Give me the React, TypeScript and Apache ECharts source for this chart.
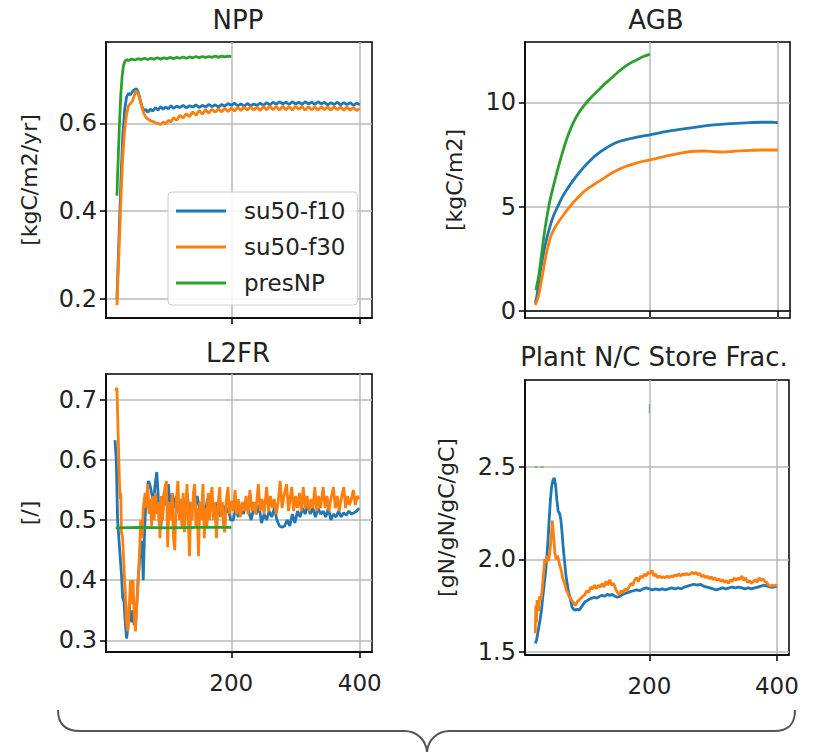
import React, { useEffect, useRef } from "react";
import * as echarts from "echarts";

const FONT = "DejaVu Sans";
const BLUE = "#1f77b4";
const ORANGE = "#ff7f0e";
const GREEN = "#2ca02c";

const SERIES_NAMES = ["su50-f10", "su50-f30", "presNP"];
const PANEL_TITLES = ["NPP", "AGB", "L2FR", "Plant N/C Store Frac."];
const Y_NAMES = ["[kgC/m2/yr]", "[kgC/m2]", "[/]", "[gN/gN/gC/gC]"];
const X_TICKS = [200, 400];
const Y_TICKS_NPP = [0.2, 0.4, 0.6];
const Y_TICKS_AGB = [0, 5, 10];
const Y_TICKS_L2FR = [0.3, 0.4, 0.5, 0.6, 0.7];
const Y_TICKS_NC = [1.5, 2.0, 2.5];

// ---- NPP ----
const NPP_BLUE = [[22,0.20],[25,0.33],[28,0.46],[31,0.57],[34,0.63],[37,0.66],[40,0.668],[43,0.665],[46,0.672],[49,0.676],[52,0.679],[55,0.672],[58,0.655],[61,0.638],[64,0.628],[67,0.632],[70,0.625],[74,0.632],[78,0.628],[82,0.636],[86,0.63],[90,0.638],[94,0.632],[98,0.637],[102,0.633],[106,0.64],[110,0.634],[115,0.639],[120,0.636],[125,0.641],[130,0.635],[135,0.64],[140,0.637],[145,0.642],[150,0.636],[155,0.641],[160,0.637],[165,0.643],[170,0.638],[175,0.642],[180,0.637],[185,0.643],[190,0.639],[195,0.645],[200,0.641],[205,0.646],[210,0.64],[215,0.644],[220,0.639],[225,0.645],[230,0.64],[235,0.644],[240,0.641],[245,0.646],[250,0.641],[255,0.647],[260,0.642],[265,0.648],[270,0.643],[275,0.649],[280,0.644],[285,0.648],[290,0.643],[295,0.649],[300,0.644],[305,0.648],[310,0.643],[315,0.649],[320,0.644],[325,0.648],[330,0.643],[335,0.649],[340,0.644],[345,0.648],[350,0.642],[355,0.647],[360,0.643],[365,0.648],[370,0.642],[375,0.647],[380,0.643],[385,0.647],[390,0.641],[395,0.646],[400,0.642]];
const NPP_ORANGE = [[22,0.186],[25,0.30],[28,0.42],[31,0.52],[34,0.585],[37,0.62],[40,0.64],[43,0.645],[46,0.65],[49,0.663],[52,0.674],[55,0.668],[58,0.652],[61,0.636],[64,0.622],[67,0.614],[70,0.61],[74,0.606],[78,0.604],[82,0.601],[86,0.6],[90,0.597],[94,0.603],[98,0.599],[102,0.607],[106,0.603],[110,0.613],[115,0.607],[120,0.618],[125,0.612],[130,0.622],[135,0.615],[140,0.626],[145,0.618],[150,0.629],[155,0.621],[160,0.631],[165,0.623],[170,0.632],[175,0.625],[180,0.633],[185,0.626],[190,0.634],[195,0.627],[200,0.635],[205,0.628],[210,0.636],[215,0.629],[220,0.637],[225,0.63],[230,0.638],[235,0.63],[240,0.637],[245,0.629],[250,0.638],[255,0.631],[260,0.639],[265,0.631],[270,0.638],[275,0.63],[280,0.639],[285,0.631],[290,0.638],[295,0.63],[300,0.639],[305,0.632],[310,0.638],[315,0.63],[320,0.638],[325,0.631],[330,0.637],[335,0.63],[340,0.638],[345,0.631],[350,0.637],[355,0.63],[360,0.638],[365,0.631],[370,0.637],[375,0.63],[380,0.637],[385,0.63],[390,0.636],[395,0.629],[400,0.633]];
const NPP_GREEN = [[22,0.435],[24,0.52],[26,0.6],[28,0.665],[30,0.705],[32,0.73],[34,0.74],[37,0.745],[40,0.743],[45,0.746],[50,0.744],[55,0.747],[60,0.745],[65,0.748],[70,0.745],[75,0.748],[80,0.746],[85,0.749],[90,0.746],[95,0.749],[100,0.747],[105,0.75],[110,0.747],[115,0.75],[120,0.748],[125,0.751],[130,0.748],[135,0.751],[140,0.749],[145,0.752],[150,0.749],[155,0.752],[160,0.75],[165,0.752],[170,0.75],[175,0.753],[180,0.75],[185,0.753],[190,0.751],[195,0.753],[200,0.752]];

// ---- AGB ----
const AGB_BLUE = [[21,0.35],[24,0.8],[27,1.5],[30,2.1],[33,2.6],[36,3.1],[40,3.6],[45,4.15],[50,4.6],[56,5.0],[63,5.45],[70,5.8],[80,6.25],[90,6.65],[100,7.0],[115,7.45],[130,7.78],[150,8.1],[175,8.3],[200,8.45],[225,8.6],[250,8.72],[275,8.83],[300,8.92],[325,8.98],[350,9.02],[375,9.05],[390,9.05],[400,9.03]];
const AGB_ORANGE = [[21,0.28],[25,0.6],[28,1.0],[31,1.5],[35,2.2],[38,2.7],[41,3.1],[45,3.55],[50,3.9],[57,4.25],[65,4.6],[75,5.0],[88,5.45],[100,5.8],[112,6.05],[125,6.3],[140,6.6],[160,6.9],[180,7.1],[200,7.24],[225,7.42],[250,7.58],[270,7.66],[285,7.67],[300,7.64],[315,7.62],[330,7.66],[350,7.69],[375,7.72],[400,7.72]];
const AGB_GREEN = [[22,1.0],[26,1.6],[30,2.5],[36,3.9],[42,5.0],[47,5.7],[52,6.3],[58,7.0],[65,7.75],[72,8.4],[80,9.0],[90,9.55],[100,9.95],[110,10.3],[120,10.6],[130,10.9],[140,11.17],[150,11.45],[160,11.7],[170,11.9],[180,12.05],[190,12.2],[200,12.32]];

// ---- L2FR ----
const L2FR_BLUE = [[19,0.633],[21,0.6],[23,0.5],[25,0.47],[27,0.44],[29,0.41],[31,0.37],[33,0.365],[35,0.33],[37,0.303],[39,0.32],[41,0.36],[43,0.34],[45,0.33],[47,0.35],[49,0.325],[51,0.33],[53,0.36],[55,0.4],[57,0.43],[59,0.46],[61,0.465],[63,0.40],[65,0.48],[67,0.53],[69,0.545],[71,0.565],[73,0.56],[75,0.55],[77,0.54],[79,0.52],[81,0.555],[84,0.58],[86,0.545],[88,0.49],[90,0.485],[92,0.51],[94,0.53],[96,0.55],[98,0.525],[100,0.545],[102,0.56],[104,0.53],[106,0.52],[108,0.545],[110,0.535],[112,0.52],[115,0.54],[119,0.51],[123,0.535],[127,0.52],[131,0.545],[135,0.515],[139,0.53],[143,0.52],[147,0.54],[151,0.515],[155,0.53],[159,0.51],[163,0.535],[167,0.515],[171,0.525],[175,0.51],[179,0.53],[183,0.505],[187,0.525],[191,0.51],[195,0.52],[199,0.5],[203,0.5],[207,0.52],[211,0.505],[215,0.525],[219,0.51],[223,0.53],[227,0.515],[231,0.5],[235,0.52],[239,0.51],[243,0.525],[247,0.495],[251,0.51],[255,0.5],[259,0.515],[263,0.505],[267,0.52],[271,0.5],[275,0.49],[279,0.488],[283,0.49],[287,0.5],[291,0.49],[295,0.51],[299,0.495],[303,0.515],[307,0.505],[311,0.52],[315,0.51],[319,0.525],[323,0.51],[327,0.52],[331,0.505],[335,0.52],[339,0.51],[343,0.515],[347,0.505],[351,0.52],[355,0.5],[359,0.51],[363,0.505],[367,0.515],[371,0.505],[375,0.512],[379,0.508],[383,0.515],[387,0.51],[391,0.512],[395,0.515],[399,0.52]];
const L2FR_ORANGE = [[20,0.715],[22,0.72],[24,0.64],[26,0.56],[27,0.535],[28,0.545],[29,0.48],[31,0.47],[33,0.42],[35,0.38],[37,0.33],[39,0.315],[41,0.35],[43,0.40],[45,0.36],[47,0.40],[49,0.34],[51,0.315],[53,0.36],[55,0.40],[57,0.44],[59,0.50],[61,0.47],[63,0.52],[66,0.545],[68,0.52],[70,0.56],[72,0.51],[74,0.535],[76,0.49],[78,0.54],[80,0.50],[82,0.545],[85,0.51],[87,0.53],[89,0.47],[91,0.54],[93,0.50],[96,0.55],[99,0.565],[101,0.455],[103,0.53],[106,0.50],[108,0.545],[110,0.47],[112,0.45],[114,0.53],[117,0.565],[119,0.50],[121,0.535],[123,0.49],[125,0.545],[127,0.48],[129,0.52],[131,0.56],[133,0.50],[135,0.44],[137,0.53],[139,0.50],[141,0.545],[143,0.56],[145,0.49],[147,0.52],[149,0.44],[151,0.53],[153,0.50],[156,0.56],[158,0.47],[160,0.52],[162,0.49],[164,0.545],[166,0.50],[168,0.535],[170,0.555],[172,0.50],[174,0.53],[177,0.47],[179,0.52],[182,0.555],[184,0.505],[186,0.53],[188,0.49],[190,0.48],[192,0.53],[195,0.555],[197,0.51],[199,0.53],[201,0.53],[203,0.515],[206,0.55],[208,0.51],[211,0.535],[214,0.505],[217,0.53],[220,0.515],[223,0.54],[226,0.51],[229,0.55],[232,0.515],[235,0.53],[238,0.51],[242,0.56],[245,0.515],[248,0.535],[251,0.51],[255,0.555],[258,0.515],[261,0.54],[264,0.52],[267,0.535],[270,0.51],[273,0.53],[276,0.565],[279,0.52],[282,0.54],[286,0.56],[289,0.515],[291,0.53],[294,0.555],[297,0.515],[300,0.54],[303,0.52],[306,0.545],[309,0.515],[312,0.555],[315,0.52],[318,0.54],[321,0.515],[324,0.535],[327,0.52],[330,0.555],[333,0.515],[336,0.54],[339,0.52],[343,0.555],[346,0.52],[349,0.54],[352,0.515],[355,0.535],[359,0.555],[362,0.52],[365,0.54],[368,0.515],[371,0.535],[375,0.555],[378,0.52],[381,0.54],[384,0.525],[387,0.535],[390,0.55],[393,0.525],[396,0.54],[399,0.535]];
const L2FR_GREEN = [[20,0.487],[60,0.488],[100,0.487],[150,0.488],[200,0.488]];

// ---- Plant N/C store fraction ----
const NC_BLUE = [[21,1.545],[23,1.56],[25,1.6],[27,1.64],[29,1.68],[31,1.73],[33,1.8],[35,1.86],[37,1.92],[39,2.0],[41,2.1],[43,2.22],[45,2.33],[47,2.4],[49,2.43],[51,2.44],[53,2.4],[55,2.32],[57,2.26],[59,2.25],[61,2.22],[63,2.15],[65,2.06],[67,1.99],[69,1.92],[71,1.87],[73,1.83],[75,1.8],[77,1.77],[79,1.74],[81,1.73],[84,1.725],[87,1.73],[90,1.725],[93,1.74],[96,1.755],[99,1.77],[102,1.775],[106,1.785],[110,1.79],[114,1.795],[118,1.79],[122,1.8],[126,1.805],[130,1.8],[134,1.81],[138,1.805],[142,1.81],[146,1.8],[150,1.795],[154,1.8],[158,1.81],[162,1.815],[166,1.82],[170,1.825],[175,1.83],[180,1.835],[185,1.83],[190,1.84],[195,1.845],[200,1.84],[205,1.835],[210,1.84],[215,1.835],[220,1.84],[225,1.835],[230,1.84],[235,1.845],[240,1.84],[245,1.845],[250,1.84],[255,1.85],[260,1.855],[265,1.86],[270,1.865],[275,1.86],[280,1.865],[285,1.855],[290,1.85],[295,1.845],[300,1.84],[305,1.835],[310,1.84],[315,1.845],[320,1.84],[325,1.845],[330,1.85],[335,1.845],[340,1.85],[345,1.845],[350,1.84],[355,1.845],[360,1.84],[365,1.845],[370,1.85],[375,1.855],[380,1.86],[385,1.855],[390,1.85],[395,1.85],[400,1.855]];
const NC_ORANGE = [[21,1.6],[22,1.75],[23,1.66],[24,1.78],[26,1.72],[28,1.8],[30,1.78],[32,1.84],[34,1.92],[36,2.0],[38,1.98],[40,2.02],[42,1.99],[44,2.04],[46,2.12],[48,2.21],[50,2.12],[52,2.03],[54,2.0],[56,2.02],[58,1.99],[60,1.96],[62,1.94],[64,1.9],[66,1.88],[68,1.86],[70,1.83],[72,1.82],[74,1.8],[76,1.79],[78,1.78],[80,1.77],[82,1.76],[84,1.75],[87,1.77],[90,1.78],[93,1.79],[96,1.8],[99,1.81],[102,1.83],[105,1.82],[108,1.85],[111,1.84],[114,1.86],[117,1.84],[120,1.86],[123,1.85],[126,1.87],[129,1.85],[132,1.88],[135,1.86],[138,1.89],[141,1.86],[144,1.87],[147,1.84],[150,1.82],[153,1.81],[156,1.83],[159,1.82],[162,1.84],[165,1.83],[168,1.85],[171,1.87],[174,1.86],[177,1.89],[180,1.9],[183,1.88],[186,1.91],[189,1.9],[192,1.92],[195,1.91],[198,1.93],[201,1.92],[204,1.94],[207,1.91],[210,1.92],[213,1.9],[216,1.91],[219,1.9],[222,1.905],[225,1.9],[228,1.91],[231,1.9],[234,1.91],[237,1.905],[240,1.915],[243,1.91],[246,1.92],[249,1.91],[252,1.92],[255,1.915],[258,1.925],[261,1.915],[264,1.92],[267,1.93],[270,1.92],[273,1.93],[276,1.915],[279,1.925],[282,1.905],[285,1.915],[288,1.9],[291,1.91],[294,1.895],[297,1.905],[300,1.89],[303,1.9],[306,1.885],[309,1.895],[312,1.88],[315,1.89],[318,1.875],[321,1.885],[324,1.87],[327,1.89],[330,1.88],[333,1.9],[336,1.885],[339,1.9],[342,1.89],[345,1.91],[348,1.885],[351,1.9],[354,1.875],[357,1.885],[360,1.87],[363,1.88],[366,1.89],[369,1.875],[372,1.9],[375,1.885],[378,1.895],[381,1.88],[384,1.875],[387,1.86],[390,1.855],[393,1.86],[396,1.855],[399,1.86],[400,1.865]];
const NC_GREEN_A = [[20,2.5],[38,2.5]];
const NC_GREEN_B = [[200,2.79],[200,2.84]];

const BRACE_D =
  "M58,710 C58,724 65,731 80,731 L404,731 C417,731 426,740 427,752 C428,740 437,731 450,731 L774,731 C789,731 795,724 795,710";

let braceRegistered = false;

export default function App() {
  const ref = useRef<HTMLDivElement | null>(null);

  useEffect(() => {
    if (!ref.current) return;
    if (!braceRegistered) {
      echarts.graphic.registerShape("brace", echarts.graphic.extendPath(BRACE_D, {}));
      braceRegistered = true;
    }
    const chart = echarts.init(ref.current, null, { renderer: "svg" });

    const grids = [
      { left: 106, top: 42, width: 266, height: 276 },
      { left: 525, top: 42, width: 265, height: 276 },
      { left: 106, top: 374, width: 266, height: 278 },
      { left: 525, top: 380, width: 264, height: 275 },
    ].map((g) => ({ ...g, show: true, borderColor: "#000", borderWidth: 1.5, backgroundColor: "#fff" }));

    const yRanges = [
      { min: 0.157, max: 0.785, ticks: Y_TICKS_NPP, fmt: (v: number) => v.toFixed(1), gap: 66 },
      { min: -0.34, max: 12.9, ticks: Y_TICKS_AGB, fmt: (v: number) => String(v), gap: 60 },
      { min: 0.2805, max: 0.743, ticks: Y_TICKS_L2FR, fmt: (v: number) => v.toFixed(1), gap: 66 },
      { min: 1.482, max: 2.971, ticks: Y_TICKS_NC, fmt: (v: number) => v.toFixed(1), gap: 68 },
    ];

    const xAxis = [0, 1, 2, 3].map((i) => ({
      type: "value",
      gridIndex: i,
      min: 5,
      max: 419,
      axisLine: { show: true, lineStyle: { color: "#000", width: 1.5 } },
      axisTick: { show: true, length: 6, customValues: X_TICKS, lineStyle: { color: "#000", width: 1.5 } },
      axisLabel: {
        show: i >= 2,
        customValues: X_TICKS,
        margin: 19,
        fontSize: 23,
        fontFamily: FONT,
        color: "#222",
      },
      splitLine: { show: true, lineStyle: { color: "#b8b8b8", width: 1.5 } },
    }));

    const yAxis = yRanges.map((r, i) => ({
      type: "value",
      gridIndex: i,
      min: r.min,
      max: r.max,
      name: Y_NAMES[i],
      nameLocation: "middle",
      nameRotate: 90,
      nameGap: r.gap,
      nameTextStyle: { fontSize: 22, fontFamily: FONT, color: "#222" },
      axisLine: { show: true, lineStyle: { color: "#000", width: 1.5 } },
      axisTick: { show: true, length: 6, customValues: r.ticks, lineStyle: { color: "#000", width: 1.5 } },
      axisLabel: {
        customValues: r.ticks,
        formatter: r.fmt,
        margin: 9,
        fontSize: 24,
        fontFamily: FONT,
        color: "#222",
      },
      splitLine: { show: true, lineStyle: { color: "#b8b8b8", width: 1.5 } },
    }));

    const mk = (name: string, color: string, data: number[][], i: number, extra: any = {}) => ({
      type: "line",
      name,
      xAxisIndex: i,
      yAxisIndex: i,
      data,
      showSymbol: false,
      symbol: "none",
      smooth: extra.smooth || false,
      lineStyle: { color, width: 2.8, ...(extra.lineStyle || {}) },
      itemStyle: { color },
      emphasis: { disabled: true },
      silent: true,
    });

    const series = [
      mk(SERIES_NAMES[0], BLUE, NPP_BLUE, 0),
      mk(SERIES_NAMES[1], ORANGE, NPP_ORANGE, 0),
      mk(SERIES_NAMES[2], GREEN, NPP_GREEN, 0),
      mk(SERIES_NAMES[0], BLUE, AGB_BLUE, 1, { smooth: 0.3 }),
      mk(SERIES_NAMES[1], ORANGE, AGB_ORANGE, 1, { smooth: 0.3 }),
      mk(SERIES_NAMES[2], GREEN, AGB_GREEN, 1, { smooth: 0.3 }),
      mk(SERIES_NAMES[0], BLUE, L2FR_BLUE, 2),
      mk(SERIES_NAMES[1], ORANGE, L2FR_ORANGE, 2),
      mk(SERIES_NAMES[2], GREEN, L2FR_GREEN, 2),
      mk(SERIES_NAMES[0], BLUE, NC_BLUE, 3),
      mk(SERIES_NAMES[1], ORANGE, NC_ORANGE, 3),
      mk(SERIES_NAMES[2], GREEN, NC_GREEN_A, 3, { lineStyle: { width: 1.5, type: [3, 3], opacity: 0.6 } }),
      mk(SERIES_NAMES[2], GREEN, NC_GREEN_B, 3, { lineStyle: { width: 1.5, opacity: 0.5 } }),
    ];

    const titlePos = [
      [238, 20],
      [656, 20],
      [238, 353],
      [654, 357],
    ];

    chart.setOption({
      animation: false,
      textStyle: { fontFamily: FONT },
      grid: grids,
      xAxis,
      yAxis,
      legend: {
        data: SERIES_NAMES,
        left: 168,
        top: 192,
        orient: "vertical",
        icon: "rect",
        itemWidth: 50,
        itemHeight: 3,
        itemGap: 10,
        padding: [6, 12, 9, 8],
        backgroundColor: "rgba(255,255,255,0.85)",
        borderColor: "#cccccc",
        borderWidth: 1,
        borderRadius: 4,
        selectedMode: false,
        textStyle: { fontSize: 23, fontFamily: FONT, color: "#222", lineHeight: 26, padding: [0, 0, 0, 13] },
      },
      series,
      graphic: [
        ...PANEL_TITLES.map((t, i) => ({
          type: "text",
          x: titlePos[i][0],
          y: titlePos[i][1],
          style: {
            text: t,
            fontSize: 26,
            fontFamily: FONT,
            fill: "#222",
            align: "center",
            verticalAlign: "middle",
          },
        })),
        {
          type: "brace",
          x: 0,
          y: 0,
          scaleX: 1,
          scaleY: 1,
          style: { fill: "none", stroke: "#555", lineWidth: 2 },
        },
      ],
    });

    return () => {
      chart.dispose();
    };
  }, []);

  return (
    <div
      ref={ref}
      style={{ position: "fixed", left: 0, top: 0, width: 817, height: 753, background: "#fff" }}
    />
  );
}
